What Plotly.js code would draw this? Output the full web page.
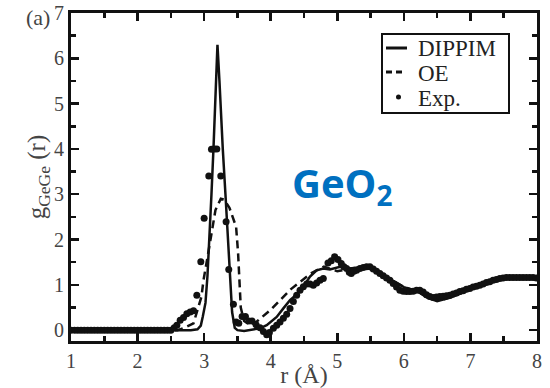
<!DOCTYPE html>
<html>
<head>
<meta charset="utf-8">
<script src="https://cdn.plot.ly/plotly-3.0.1.min.js"></script>
<style>html,body{margin:0;padding:0;background:#fff;}#chart{width:550px;height:388px;}</style>
</head>
<body>
<div id="chart"></div>
<script>
// DIPPIM (solid)
const dippimR = [1.0, 2.8, 2.9, 2.95, 2.98, 3.02, 3.05, 3.08, 3.11, 3.14, 3.17, 3.2, 3.23, 3.26, 3.28, 3.32, 3.36, 3.39, 3.42, 3.46, 3.5, 3.6, 3.7, 3.84, 3.94, 4.09, 4.19, 4.29, 4.39, 4.49, 4.59, 4.69, 4.79, 4.89, 5.04, 5.19, 5.4, 5.6, 5.8, 6.0, 6.2, 6.35, 6.5, 6.7, 7.0, 7.3, 7.5, 7.7, 8.0];
const dippimG = [0.0, 0.0, 0.02, 0.1, 0.3, 0.6, 1.2, 2.0, 3.0, 4.0, 5.2, 6.3, 5.5, 4.5, 4.0, 3.0, 2.0, 1.0, 0.4, 0.05, 0.0, -0.02, 0.0, 0.04, 0.11, 0.29, 0.48, 0.66, 0.79, 0.96, 1.18, 1.32, 1.36, 1.34, 1.4, 1.36, 1.4, 1.3, 1.12, 0.95, 0.86, 0.72, 0.64, 0.72, 0.9, 1.05, 1.15, 1.17, 1.16];

// OE (dashed)
const oeR = [1.0, 2.6, 2.7, 2.84, 2.96, 2.99, 3.06, 3.11, 3.17, 3.25, 3.3, 3.38, 3.48, 3.51, 3.53, 3.55, 3.6, 3.7, 3.8, 4.0, 4.3, 4.6, 4.8, 5.0, 5.2, 5.4, 5.6, 5.8, 6.0, 6.2, 6.4, 6.6, 6.8, 7.0, 7.3, 7.5, 7.7, 8.0];
const oeG = [0.0, 0.0, 0.05, 0.15, 0.74, 1.1, 1.69, 2.13, 2.65, 2.9, 2.88, 2.7, 2.28, 1.7, 1.0, 0.5, 0.2, 0.1, 0.2, 0.45, 0.9, 1.25, 1.4, 1.3, 1.36, 1.4, 1.3, 1.12, 0.95, 0.86, 0.72, 0.68, 0.78, 0.92, 1.06, 1.15, 1.17, 1.16];

// Exp. (dots)
const expR = [1.0, 1.05, 1.1, 1.15, 1.2, 1.25, 1.3, 1.35, 1.4, 1.45, 1.5, 1.55, 1.6, 1.65, 1.7, 1.75, 1.8, 1.85, 1.9, 1.95, 2.0, 2.05, 2.1, 2.15, 2.2, 2.25, 2.3, 2.35, 2.4, 2.45, 2.5,
  2.55, 2.59, 2.64, 2.69, 2.74, 2.79, 2.84, 2.89, 2.95, 3.0, 3.07, 3.11, 3.15, 3.19, 3.25, 3.33, 3.37, 3.44, 3.48, 3.52, 3.57, 3.62, 3.67, 3.72, 3.78, 3.84, 3.89, 3.94, 3.98,
  4.04, 4.09, 4.14, 4.19, 4.24, 4.29, 4.34, 4.39, 4.44, 4.49, 4.54, 4.59, 4.64, 4.69, 4.74, 4.79, 4.86, 4.91, 4.96, 5.01, 5.06, 5.1, 5.14, 5.18, 5.21, 5.25, 5.29, 5.34, 5.39, 5.44, 5.49,
  5.54, 5.59, 5.64, 5.69, 5.74, 5.79, 5.84, 5.89, 5.94, 5.99, 6.04, 6.09, 6.14, 6.19, 6.24, 6.29, 6.34, 6.39, 6.44, 6.49, 6.54, 6.59, 6.64, 6.69, 6.74, 6.79, 6.84, 6.89, 6.94, 6.99,
  7.04, 7.09, 7.14, 7.19, 7.24, 7.29, 7.34, 7.39, 7.44, 7.49, 7.54, 7.59, 7.64, 7.69, 7.74, 7.79, 7.84, 7.89, 7.94, 7.99];
const expG = [0, 0, 0, 0, 0, 0, 0, 0, 0, 0, 0, 0, 0, 0, 0, 0, 0, 0, 0, 0, 0, 0, 0, 0, 0, 0, 0, 0, 0, 0, 0,
  0.05, 0.11, 0.22, 0.28, 0.36, 0.4, 0.43, 0.77, 1.51, 2.47, 3.4, 3.99, 4.0, 4.0, 3.4, 2.39, 1.34, 0.57, 0.18, 0.15, 0.3, 0.3, 0.2, 0.2, 0.12, 0.05, -0.03, -0.1, -0.05,
  0.04, 0.11, 0.18, 0.26, 0.35, 0.48, 0.63, 0.77, 0.88, 0.96, 1.02, 1.02, 0.99, 1.04, 1.1, 1.14, 1.48, 1.53, 1.62, 1.56, 1.47, 1.4, 1.36, 1.28, 1.25, 1.3, 1.32, 1.36, 1.38, 1.4, 1.4,
  1.35, 1.3, 1.25, 1.2, 1.15, 1.1, 1.03, 0.95, 0.88, 0.86, 0.85, 0.85, 0.86, 0.88, 0.88, 0.84, 0.78, 0.74, 0.72, 0.73, 0.74, 0.75, 0.76, 0.77, 0.8, 0.82, 0.85, 0.87, 0.9, 0.92,
  0.95, 0.97, 0.99, 1.02, 1.05, 1.07, 1.1, 1.12, 1.14, 1.15, 1.16, 1.16, 1.16, 1.16, 1.16, 1.16, 1.16, 1.16, 1.16, 1.15];

const xTicks = [1, 2, 3, 4, 5, 6, 7, 8];
const yTicks = [0, 1, 2, 3, 4, 5, 6, 7];
const legendNames = ['DIPPIM', 'OE', 'Exp.'];

const serif = 'Liberation Serif';
const grey = '#444';
const ink = '#111';

const traces = [
  {x: dippimR, y: dippimG, mode: 'lines', name: legendNames[0], line: {color: ink, width: 2.5}},
  {x: oeR, y: oeG, mode: 'lines', name: legendNames[1], line: {color: ink, width: 2.5, dash: '8px,5px'}},
  {x: expR, y: expG, mode: 'markers', name: legendNames[2], marker: {color: ink, size: 7}}
];

const axisCommon = {
  showline: true, linecolor: ink, linewidth: 3, mirror: 'ticks',
  ticks: 'inside', ticklen: 8, tickwidth: 2.5, tickcolor: ink,
  showgrid: false, zeroline: false,
  tickfont: {family: serif, size: 20, color: grey},
  minor: {ticks: 'inside', ticklen: 5, tickwidth: 2.5, tickcolor: ink, dtick: 0.5, showgrid: false}
};

// plot area in px: left 71, right 537, top 13, bottom 341
const L = 71, R = 537, T = 13, B = 341;
const px = v => (v - L) / (R - L);
const py = v => (B - v) / (B - T);

const rows = [48, 72, 97];
const shapes = [
  {type: 'rect', xref: 'paper', yref: 'paper', x0: px(382), x1: px(509), y0: py(113), y1: py(34),
   line: {color: ink, width: 2}, fillcolor: '#fff', layer: 'above'},
  {type: 'line', xref: 'paper', yref: 'paper', x0: px(386), x1: px(407), y0: py(rows[0]), y1: py(rows[0]),
   line: {color: ink, width: 3}},
  {type: 'line', xref: 'paper', yref: 'paper', x0: px(386), x1: px(392), y0: py(rows[1]), y1: py(rows[1]),
   line: {color: ink, width: 3}},
  {type: 'line', xref: 'paper', yref: 'paper', x0: px(396), x1: px(402), y0: py(rows[1]), y1: py(rows[1]),
   line: {color: ink, width: 3}},
  {type: 'circle', xref: 'paper', yref: 'paper', x0: px(396), x1: px(401), y0: py(rows[2] + 2.5), y1: py(rows[2] - 2.5),
   line: {color: ink, width: 0}, fillcolor: ink}
];

const legendAnn = legendNames.map((n, i) => ({
  xref: 'paper', yref: 'paper', x: px(416), y: py(rows[i] + 1), xanchor: 'left', yanchor: 'middle',
  text: n, showarrow: false, font: {family: serif, size: 23, color: '#222'}
}));

const layout = {
  width: 550, height: 388,
  margin: {l: L, r: 550 - R, t: T, b: 388 - B},
  paper_bgcolor: '#fff', plot_bgcolor: '#fff',
  showlegend: false,
  xaxis: Object.assign({}, axisCommon, {
    range: [1, 8], tickvals: xTicks, ticktext: xTicks.map(String),
    title: {text: 'r (Å)', font: {family: serif, size: 24, color: grey}, standoff: 30}
  }),
  yaxis: Object.assign({}, axisCommon, {
    range: [-0.24, 7], tickvals: yTicks, ticktext: yTicks.map(String),
    title: {text: 'g<sub>GeGe</sub> (r)', font: {family: serif, size: 25, color: grey}, standoff: 2}
  }),
  shapes: shapes,
  annotations: [
    {xref: 'paper', yref: 'paper', x: px(38), y: py(17), xanchor: 'center', yanchor: 'middle',
     text: '(a)', showarrow: false, font: {family: serif, size: 22, color: grey}},
    {xref: 'paper', yref: 'paper', x: px(342), y: py(184), xanchor: 'center', yanchor: 'middle',
     text: '<b>GeO<sub>2</sub></b>', showarrow: false, font: {family: 'Open Sans', size: 40, color: '#0070C0'}}
  ].concat(legendAnn)
};

Plotly.newPlot('chart', traces, layout, {staticPlot: true, displayModeBar: false});
</script>
</body>
</html>
